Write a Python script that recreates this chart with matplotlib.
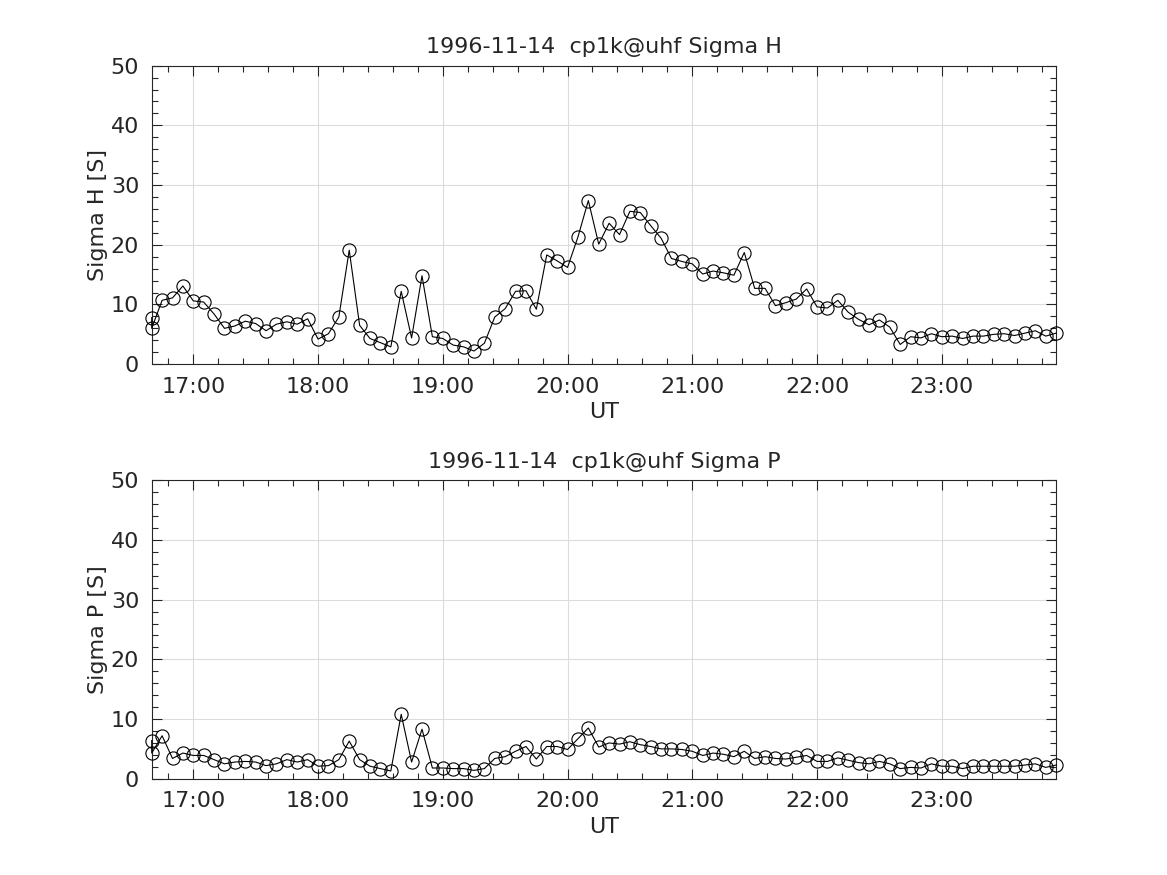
import pandas as pd
import matplotlib
matplotlib.use("Agg")
import matplotlib.pyplot as plt
import matplotlib.dates as mdates
from matplotlib.ticker import MultipleLocator

# 5-minute samples from 16:40 to 23:55 UT, first sample recorded twice
start = "1996-11-14 16:40"
n_samples = 88

sigma_h = [
    7.8, 6.0, 10.7, 11.1, 13.1, 10.6, 10.4, 8.4, 6.0, 6.4, 7.2, 6.8, 5.6, 6.7,
    7.1, 6.7, 7.6, 4.2, 5.1, 7.9, 19.1, 6.5, 4.3, 3.6, 2.9, 12.2, 4.4, 14.8,
    4.6, 4.3, 3.2, 2.9, 2.2, 3.5, 7.9, 9.3, 12.2, 12.3, 9.2, 18.3, 17.3, 16.2,
    21.3, 27.4, 20.1, 23.6, 21.7, 25.6, 25.4, 23.2, 21.1, 17.7, 17.2, 16.8,
    15.1, 15.6, 15.3, 14.9, 18.7, 12.7, 12.7, 9.8, 10.3, 10.9, 12.6, 9.6, 9.4,
    10.7, 8.7, 7.5, 6.6, 7.4, 6.2, 3.3, 4.6, 4.4, 5.1, 4.6, 4.7, 4.3, 4.7,
    4.7, 5.0, 5.1, 4.8, 5.2, 5.6, 4.7, 5.2,
]

sigma_p = [
    6.4, 4.3, 7.2, 3.4, 4.3, 3.9, 3.9, 3.2, 2.5, 2.8, 2.9, 2.8, 2.2, 2.5,
    3.2, 2.8, 3.2, 2.1, 2.2, 3.2, 6.3, 3.2, 2.1, 1.7, 1.3, 10.8, 2.8, 8.3,
    1.8, 1.8, 1.7, 1.7, 1.4, 1.7, 3.4, 3.7, 4.6, 5.4, 3.3, 5.4, 5.4, 4.9,
    6.7, 8.5, 5.3, 6.0, 5.8, 6.2, 5.7, 5.4, 5.0, 5.0, 4.9, 4.6, 3.9, 4.3,
    4.1, 3.7, 4.6, 3.4, 3.7, 3.4, 3.3, 3.6, 3.9, 2.9, 2.9, 3.5, 3.1, 2.7,
    2.5, 2.9, 2.5, 1.7, 1.9, 1.8, 2.5, 2.1, 2.1, 1.7, 2.1, 2.1, 2.1, 2.1,
    2.1, 2.3, 2.5, 1.9, 2.3,
]

grid_t = list(pd.date_range(start, periods=n_samples, freq="5min"))
times = [grid_t[0]] + grid_t

panels = [
    ("Sigma H", sigma_h),
    ("Sigma P", sigma_p),
]

TXT = "#262626"
plt.rcParams["font.family"] = "DejaVu Sans"
plt.rcParams["font.size"] = 16
plt.rcParams["text.color"] = TXT
plt.rcParams["axes.labelcolor"] = TXT
plt.rcParams["xtick.color"] = TXT
plt.rcParams["ytick.color"] = TXT

fig = plt.figure(figsize=(11.67, 8.75), dpi=100)
positions = [[0.13, 0.5838, 0.775, 0.3412], [0.13, 0.11, 0.775, 0.3412]]

for pos, (name, vals) in zip(positions, panels):
    ax = fig.add_axes(pos)
    ax.plot(times, vals, color="black", lw=0.8, marker="o", ms=9.5,
            mfc="none", mec="black", mew=0.8, clip_on=False, zorder=3)
    ax.set_xlim(grid_t[0], grid_t[-1])
    ax.set_ylim(0, 50)
    ax.yaxis.set_major_locator(MultipleLocator(10))
    ax.yaxis.set_minor_locator(MultipleLocator(2))
    ax.xaxis.set_major_locator(mdates.HourLocator())
    ax.xaxis.set_minor_locator(mdates.MinuteLocator(byminute=[0, 12, 24, 36, 48]))
    ax.xaxis.set_major_formatter(mdates.DateFormatter("%H:%M"))
    ax.grid(True, which="major", color="#dcdcdc", lw=0.8)
    ax.set_axisbelow(True)
    ax.tick_params(which="both", direction="in", top=True, right=True,
                   labelsize=16, width=0.8)
    ax.tick_params(which="major", length=7, pad=9)
    ax.tick_params(which="minor", length=4)
    for sp in ax.spines.values():
        sp.set_color("#262626")
        sp.set_linewidth(0.8)
    ax.set_xlabel("UT", fontsize=16, labelpad=4)
    ax.set_ylabel(f"{name} [S]", fontsize=16, labelpad=2)
    ax.set_title(f"1996-11-14  cp1k@uhf {name}", fontsize=16, pad=9)

fig.savefig("out.png", dpi=100)
